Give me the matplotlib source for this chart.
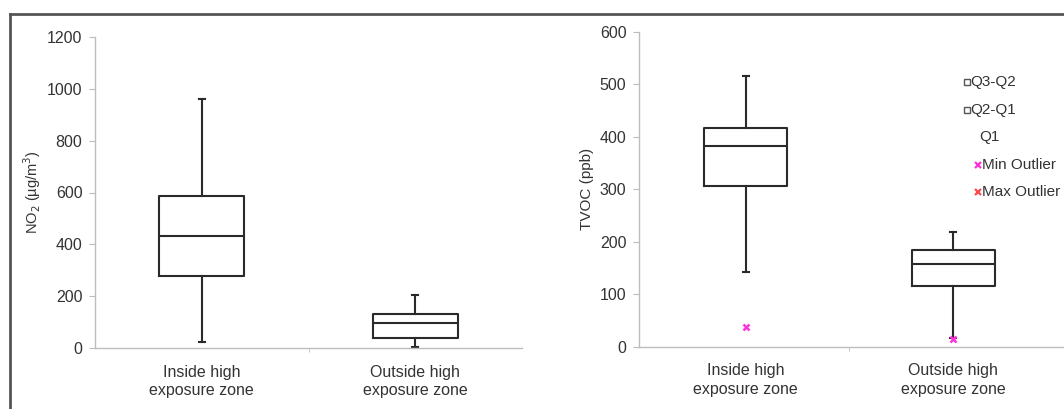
import matplotlib
matplotlib.use("Agg")
import matplotlib.pyplot as plt
from matplotlib.lines import Line2D

plt.rcParams['font.family'] = ['Liberation Sans', 'DejaVu Sans']

categories = ["Inside high\nexposure zone", "Outside high\nexposure zone"]

# NO2 (µg/m3) box statistics
no2_min = [22, 2]
no2_q1 = [277, 37]
no2_med = [431, 97]
no2_q3 = [587, 130]
no2_max = [959, 206]

# TVOC (ppb) box statistics
tvoc_min = [142, 16]
tvoc_q1 = [307, 116]
tvoc_med = [383, 157]
tvoc_q3 = [417, 184]
tvoc_max = [516, 218]
tvoc_min_outlier = [38, 14]

legend_labels = ['Q3-Q2', 'Q2-Q1', 'Q1', 'Min Outlier', 'Max Outlier']

BOX_C = '#2a2a2a'
AX_C = '#bdbdbd'
TXT_C = '#333333'
MIN_C = '#ff33dd'
MAX_C = '#ff4a4a'

W, H = 1064, 409
fig = plt.figure(figsize=(W / 100, H / 100), dpi=100)


def fx(px):
    return px / W


def fy(py):
    return 1 - py / H


def make_stats(mins, q1s, meds, q3s, maxs):
    return [dict(whislo=a, q1=b, med=c, q3=d, whishi=e, fliers=[])
            for a, b, c, d, e in zip(mins, q1s, meds, q3s, maxs)]


def style_axes(ax, ymax, ystep, xlo, xhi):
    ax.set_xlim(xlo, xhi)
    ax.set_ylim(0, ymax)
    ax.set_yticks(range(0, ymax + 1, ystep))
    for s in ('top', 'right'):
        ax.spines[s].set_visible(False)
    for s in ('left', 'bottom'):
        ax.spines[s].set_color(AX_C)
        ax.spines[s].set_linewidth(1.0)
    ax.tick_params(axis='y', direction='out', length=4, color=AX_C,
                   labelsize=11.5, labelcolor=TXT_C, pad=5)
    ax.set_xticks([1, 2])
    ax.set_xticklabels(categories, fontsize=11.5, color=TXT_C, linespacing=1.3)
    ax.tick_params(axis='x', which='major', length=0, pad=12)
    ax.set_xticks([1.5], minor=True)
    ax.tick_params(axis='x', which='minor', direction='out', length=3, color=AX_C)
    ax.set_facecolor('white')


box_kw = dict(widths=0.40, showfliers=False, patch_artist=False,
              boxprops=dict(color=BOX_C, linewidth=1.5),
              medianprops=dict(color=BOX_C, linewidth=1.5),
              whiskerprops=dict(color=BOX_C, linewidth=1.5),
              capprops=dict(color=BOX_C, linewidth=1.5),
              capwidths=0.03)

# Left panel
ax1 = fig.add_axes([fx(95), fy(348), fx(427), 311 / H])
ax1.bxp(make_stats(no2_min, no2_q1, no2_med, no2_q3, no2_max), positions=[1, 2], **box_kw)
style_axes(ax1, 1200, 200, 0.5, 2.5)
ax1.set_ylabel('NO$_2$ (µg/m$^3$)', fontsize=10.5, color=TXT_C, labelpad=3)

# Right panel
ax2 = fig.add_axes([fx(639), fy(346.7), fx(425), 315 / H])
ax2.bxp(make_stats(tvoc_min, tvoc_q1, tvoc_med, tvoc_q3, tvoc_max), positions=[1, 2], **box_kw)
ax2.plot([1, 2], tvoc_min_outlier, linestyle='none', marker='x', color=MIN_C,
         markersize=5, markeredgewidth=1.8, zorder=5)
style_axes(ax2, 600, 100, 0.485, 2.535)
ax2.set_ylabel('TVOC (ppb)', fontsize=11, color=TXT_C, labelpad=4)

# Legend (drawn entry by entry, as in the original spreadsheet legend)
leg_y = [82, 110, 137, 165, 192]
leg_text_x = [970, 970, 979, 981.5, 981.5]
leg_mark_x = [966.5, 966.5, None, 977.5, 977.5]
leg_marker = ['s', 's', None, 'x', 'x']
leg_color = ['#555555', '#555555', None, MIN_C, MAX_C]
for lab, y, tx, mx, mk, c in zip(legend_labels, leg_y, leg_text_x, leg_mark_x,
                                  leg_marker, leg_color):
    if mk == 's':
        fig.add_artist(Line2D([fx(mx)], [fy(y)], transform=fig.transFigure,
                              linestyle='none', marker='s', markersize=4.5,
                              markerfacecolor='white', markeredgecolor=c,
                              markeredgewidth=1.0))
    elif mk == 'x':
        fig.add_artist(Line2D([fx(mx)], [fy(y)], transform=fig.transFigure,
                              linestyle='none', marker='x', markersize=4,
                              color=c, markeredgewidth=1.6))
    fig.text(fx(tx), fy(y), lab, fontsize=11, color=TXT_C, ha='left', va='center')

# Outer frame lines
fig.add_artist(Line2D([fx(9.5), fx(9.5)], [0, fy(13.5)],
                      transform=fig.transFigure, color='#555555', linewidth=2))
fig.add_artist(Line2D([fx(9.5), 1], [fy(13.5), fy(13.5)],
                      transform=fig.transFigure, color='#555555', linewidth=2))

fig.savefig('out.png', dpi=100, facecolor='white')
